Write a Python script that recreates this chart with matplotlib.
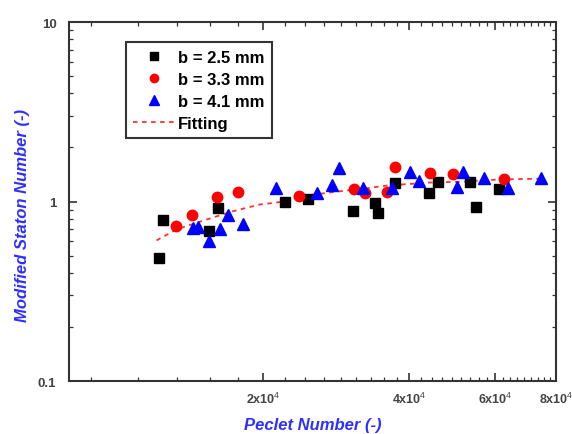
import numpy as np
import matplotlib
matplotlib.use("Agg")
from matplotlib import pyplot as plt

plt.rcParams['font.family'] = ['Liberation Sans', 'DejaVu Sans']
plt.rcParams['mathtext.fontset'] = 'custom'
plt.rcParams['mathtext.rm'] = 'Liberation Sans'
plt.rcParams['mathtext.bf'] = 'Liberation Sans:bold'

# b = 2.5 mm
pe_25 = [12.26e3, 12.45e3, 15.5e3, 16.2e3, 22.2e3, 24.8e3, 30.7e3, 34.0e3, 34.5e3,
         37.3e3, 43.8e3, 45.9e3, 53.2e3, 54.7e3, 61.0e3]
st_25 = [0.482, 0.784, 0.681, 0.915, 0.99, 1.03, 0.891, 0.987, 0.858,
         1.275, 1.122, 1.29, 1.29, 0.938, 1.18]

# b = 3.3 mm
pe_33 = [13.3e3, 14.3e3, 16.1e3, 17.8e3, 23.7e3, 30.8e3, 32.5e3, 36.0e3, 37.4e3,
         44.0e3, 49.1e3, 62.5e3]
st_33 = [0.726, 0.836, 1.066, 1.137, 1.08, 1.18, 1.12, 1.137, 1.565,
         1.45, 1.43, 1.34]

# b = 4.1 mm
pe_41 = [14.4e3, 14.7e3, 15.5e3, 16.3e3, 17.0e3, 18.2e3, 21.3e3, 25.8e3, 27.7e3,
         28.7e3, 32.1e3, 36.9e3, 40.2e3, 41.8e3, 50.0e3, 51.6e3, 56.9e3, 63.7e3, 74.7e3]
st_41 = [0.708, 0.717, 0.60, 0.699, 0.836, 0.745, 1.196, 1.12, 1.243,
         1.545, 1.196, 1.196, 1.468, 1.308, 1.21, 1.468, 1.36, 1.196, 1.36]

# fitting curve
pe_fit = [12.1e3, 13.3e3, 14.9e3, 17.3e3, 19.7e3, 22.2e3, 23.8e3, 27.4e3, 32.1e3,
          36.0e3, 43.9e3, 51.6e3, 60.4e3, 73.5e3]
st_fit = [0.607, 0.699, 0.774, 0.880, 0.962, 1.0, 1.066, 1.122, 1.18,
          1.227, 1.275, 1.29, 1.325, 1.34]

x_major = [2e4, 4e4, 6e4, 8e4]
x_labels = ['2x10$^4$', '4x10$^4$', '6x10$^4$', '8x10$^4$']
y_major = [0.1, 1, 10]
y_labels = ['0.1', '1', '10']

blue = '#2f2fff'
dark = '#333333'

fig = plt.figure(figsize=(5.72, 4.35), dpi=100)
ax = fig.add_axes([0.1206, 0.1218, 0.8514, 0.8253])

ax.plot(pe_fit, st_fit, color='#ff3030', ls=(0, (2.5, 2.5)), lw=1.3, label='Fitting', zorder=2)
ax.plot(pe_25, st_25, 's', color='black', ms=7, ls='none', label='b = 2.5 mm', zorder=3)
ax.plot(pe_33, st_33, 'o', color='red', ms=7.5, ls='none', label='b = 3.3 mm', zorder=3)
ax.plot(pe_41, st_41, '^', color='blue', ms=8.5, ls='none', label='b = 4.1 mm', zorder=3)

ax.set_xscale('log')
ax.set_yscale('log')
ax.set_xlim(8e3, 8e4)
ax.set_ylim(0.1, 10)

ax.set_xticks(x_major)
ax.set_xticklabels(x_labels)
minor = np.arange(2e4 - 5 * 2e4 / 9, 8e4, 2e4 / 9)
ax.set_xticks([m for m in minor if min(abs(m - v) for v in x_major) > 100], minor=True)
ax.xaxis.set_minor_formatter(matplotlib.ticker.NullFormatter())
ax.set_yticks(y_major)
ax.set_yticklabels(y_labels)

ax.tick_params(which='both', direction='in', top=True, right=True, colors=dark)
ax.tick_params(axis='y', pad=9, labelsize=9.5)
ax.tick_params(axis='x', pad=7, labelsize=9)
ax.tick_params(which='major', length=6, width=1.2)
ax.tick_params(which='minor', length=3, width=0.9)
for lab in ax.get_xticklabels() + ax.get_yticklabels():
    lab.set_fontweight('bold')
    lab.set_color('#444444')
for s in ax.spines.values():
    s.set_linewidth(1.5)
    s.set_color(dark)

ax.set_xlabel('Peclet Number (-)', color=blue, fontsize=12, fontweight='bold', style='italic')
ax.set_ylabel('Modified Staton Number (-)', color=blue, fontsize=12, fontweight='bold', style='italic')
ax.xaxis.set_label_coords(0.5, -0.1)
ax.yaxis.set_label_coords(-0.08, 0.465)

h, l = ax.get_legend_handles_labels()
order = [1, 2, 3, 0]
leg = ax.legend([h[i] for i in order], [l[i] for i in order], loc='upper left',
                bbox_to_anchor=(0.117, 0.944), borderaxespad=0, fancybox=False,
                framealpha=1, edgecolor=dark, handlelength=2.5, handletextpad=0.15,
                prop={'weight': 'bold', 'size': 12}, labelspacing=0.42, markerscale=0.8,
                borderpad=0.45)
leg.get_frame().set_linewidth(1.5)

fig.savefig('out.png', dpi=100)
